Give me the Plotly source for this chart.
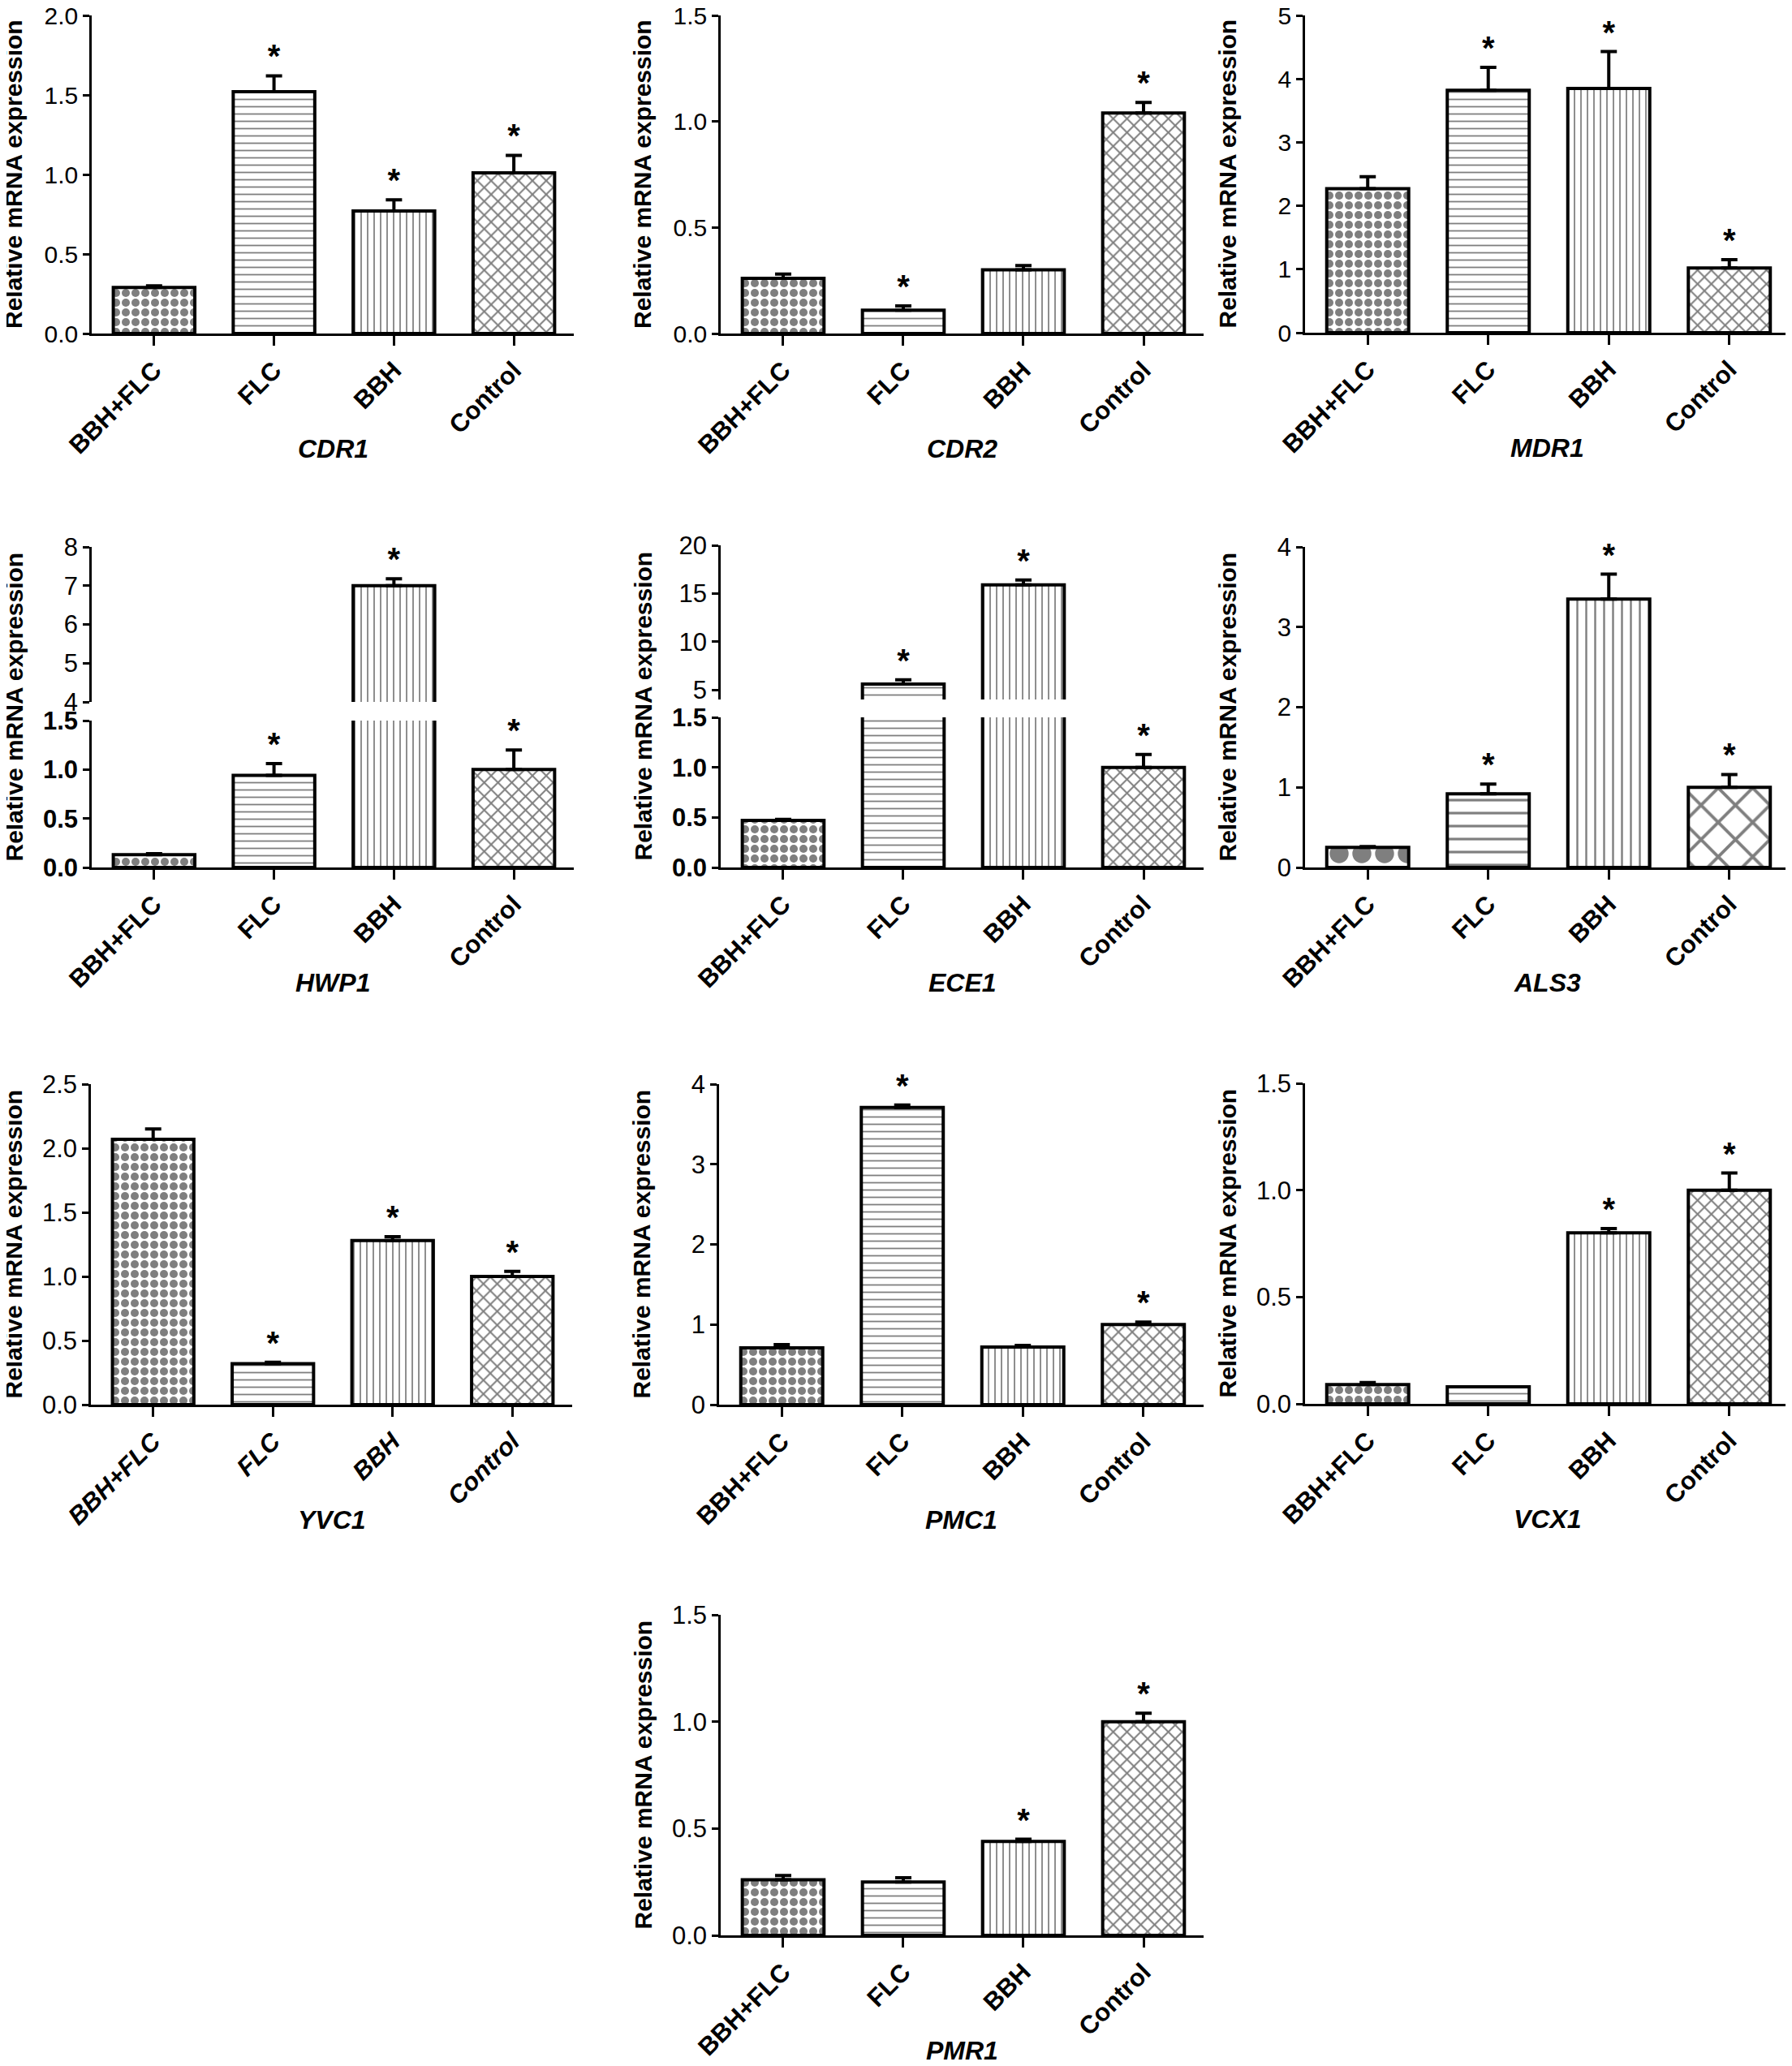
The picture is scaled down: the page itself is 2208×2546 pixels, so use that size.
import plotly.graph_objects as go

# the page body adds an 8 px margin, so the figure is a little smaller than the window
PAGE_OFF = 8
W, H = 2200, 2538

groups = ["BBH+FLC", "FLC", "BBH", "Control"]

# relative expression (mean), upward error (SD) and significance marks per gene
cdr1_mean = [0.29, 1.52, 0.77, 1.01]
cdr1_err = [0.01, 0.10, 0.07, 0.11]
cdr1_sig = ["", "*", "*", "*"]

cdr2_mean = [0.26, 0.11, 0.30, 1.04]
cdr2_err = [0.02, 0.02, 0.02, 0.05]
cdr2_sig = ["", "*", "", "*"]

mdr1_mean = [2.27, 3.82, 3.85, 1.02]
mdr1_err = [0.19, 0.36, 0.58, 0.13]
mdr1_sig = ["", "*", "*", "*"]

hwp1_mean = [0.13, 0.94, 7.0, 1.0]
hwp1_err = [0.01, 0.12, 0.18, 0.20]
hwp1_sig = ["", "*", "*", "*"]

ece1_mean = [0.47, 5.6, 15.9, 1.0]
ece1_err = [0.01, 0.45, 0.5, 0.13]
ece1_sig = ["", "*", "*", "*"]

als3_mean = [0.25, 0.92, 3.35, 1.0]
als3_err = [0.01, 0.12, 0.31, 0.16]
als3_sig = ["", "*", "*", "*"]

yvc1_mean = [2.07, 0.32, 1.28, 1.0]
yvc1_err = [0.08, 0.01, 0.03, 0.04]
yvc1_sig = ["", "*", "*", "*"]

pmc1_mean = [0.71, 3.71, 0.72, 1.0]
pmc1_err = [0.04, 0.03, 0.02, 0.03]
pmc1_sig = ["", "*", "", "*"]

vcx1_mean = [0.09, 0.08, 0.80, 1.0]
vcx1_err = [0.01, 0.0, 0.02, 0.08]
vcx1_sig = ["", "", "*", "*"]

pmr1_mean = [0.26, 0.25, 0.44, 1.0]
pmr1_err = [0.02, 0.02, 0.01, 0.04]
pmr1_sig = ["", "", "*", "*"]

FONT = "Liberation Sans, Arial, Helvetica, sans-serif"
NARROW = "Liberation Sans Narrow, Liberation Sans, Arial, sans-serif"

# panel layout in reference pixels: (gene, mean, err, sig, x0, x1, top, base, yrange, dtick, fmt, big pattern, style)
panels = [
    ("CDR1", cdr1_mean, cdr1_err, cdr1_sig, 113, 707, 19, 411, [0, 2.0], 0.5, ".1f", False, ""),
    ("CDR2", cdr2_mean, cdr2_err, cdr2_sig, 888, 1483, 19, 411, [0, 1.5], 0.5, ".1f", False, ""),
    ("MDR1", mdr1_mean, mdr1_err, mdr1_sig, 1608, 2205, 19, 410, [0, 5], 1, "d", False, ""),
    ("HWP1", hwp1_mean, hwp1_err, hwp1_sig, 113, 707, 674, 1069, [0, 1.5], 0.5, ".1f", False, ""),
    ("ECE1", ece1_mean, ece1_err, ece1_sig, 888, 1483, 672, 1069, [0, 1.5], 0.5, ".1f", False, ""),
    ("ALS3", als3_mean, als3_err, als3_sig, 1608, 2205, 674, 1069, [0, 4], 1, "d", True, ""),
    ("YVC1", yvc1_mean, yvc1_err, yvc1_sig, 112, 705, 1336, 1731, [0, 2.5], 0.5, ".1f", False, "italic"),
    ("PMC1", pmc1_mean, pmc1_err, pmc1_sig, 886, 1483, 1336, 1731, [0, 4], 1, "d", False, "narrow"),
    ("VCX1", vcx1_mean, vcx1_err, vcx1_sig, 1608, 2205, 1335, 1730, [0, 1.5], 0.5, ".1f", False, ""),
    ("PMR1", pmr1_mean, pmr1_err, pmr1_sig, 888, 1483, 1990, 2385, [0, 1.5], 0.5, ".1f", False, ""),
]

# broken axes: gene -> (upper range, upper tick values, upper-bottom px, lower-top px)
breaks = {
    "HWP1": ([4, 8], [4, 5, 6, 7, 8], 865, 888),
    "ECE1": ([4, 20], [5, 10, 15, 20], 862, 884),
}


def xf(px):
    return (px - PAGE_OFF) / W


def yf(px):
    return 1 - (px - PAGE_OFF) / H


def add_bars(fig, xa, ya, mean, err, sig, big, yrange):
    if big:
        sizes, solid = [28, 16, 11, 30], [0.55, 0.2, 0.22, 0.24]
    else:
        sizes, solid = [12, 9, 8, 12], [0.55, 0.2, 0.22, 0.3]
    fig.add_trace(go.Bar(
        x=groups, y=mean, xaxis=xa, yaxis=ya, width=0.68,
        marker=dict(color="white", line=dict(color="black", width=4),
                    pattern=dict(shape=[".", "-", "|", "x"], size=sizes, solidity=solid,
                                 fgcolor="black", bgcolor="white", fillmode="overlay")),
        error_y=dict(type="data", symmetric=False, array=err, arrayminus=[0] * len(err),
                     color="black", thickness=4, width=10),
        showlegend=False, hoverinfo="skip",
    ))
    tops = [m + e for m, e in zip(mean, err)]
    # only mark bars whose error bar ends inside this axis segment
    marks = [s if yrange[0] <= t <= yrange[1] else "" for s, t in zip(sig, tops)]
    fig.add_trace(go.Scatter(
        x=groups, y=tops, xaxis=xa, yaxis=ya,
        mode="text", text=marks, textposition="top center",
        textfont=dict(family=FONT, size=40, color="black", weight="bold"),
        showlegend=False, hoverinfo="skip", cliponaxis=False,
    ))


def axname(prefix, n):
    return prefix if n == 1 else f"{prefix}{n}"


fig = go.Figure()
layout = {}
annotations = []
extra = 11

for i, (gene, mean, err, sig, x0, x1, top, base, yr, dt, fmt, big, style) in enumerate(panels, start=1):
    xa, ya = axname("x", i), axname("y", i)
    tfam = NARROW if style else FONT
    lower_top = top
    if gene in breaks:
        urange, uticks, ubot, ltop = breaks[gene]
        lower_top = ltop
        ua = f"y{extra}"
        add_bars(fig, xa, ua, mean, err, sig, big, urange)
        layout[f"yaxis{extra}"] = dict(
            domain=[yf(ubot), yf(top)], anchor=xa, range=urange, tickvals=uticks,
            showline=True, linecolor="black", linewidth=2.5, ticks="outside", ticklen=8,
            tickwidth=2.5, tickcolor="black", showgrid=False, zeroline=False,
            automargin=False, ticklabeloverflow="allow",
            tickfont=dict(family=tfam, size=31, color="black"),
        )
        extra += 1
    add_bars(fig, xa, ya, mean, err, sig, big, yr)

    layout[axname("xaxis", i)] = dict(
        domain=[xf(x0), xf(x1)], anchor=ya, type="category",
        categoryorder="array", categoryarray=groups, range=[-0.52, 3.5],
        showline=True, linecolor="black", linewidth=2.5, ticks="outside", ticklen=12,
        tickwidth=2.5, tickcolor="black", tickangle=-45, showgrid=False, zeroline=False,
        automargin=False, ticklabeloverflow="allow",
        tickfont=dict(family=FONT, size=31, color="black", weight="bold",
                      style="italic" if style == "italic" else "normal"),
    )
    bold_ticks = gene in breaks
    layout[axname("yaxis", i)] = dict(
        domain=[yf(base), yf(lower_top)], anchor=xa, range=yr, dtick=dt, tick0=0,
        tickformat=fmt, showline=True, linecolor="black", linewidth=2.5,
        ticks="outside", ticklen=8, tickwidth=2.5, tickcolor="black",
        showgrid=False, zeroline=False, automargin=False, ticklabeloverflow="allow",
        tickfont=dict(family=tfam, size=30 if top < 100 else 31, color="black",
                      weight="bold" if bold_ticks else "normal"),
    )

    # gene name under the category labels
    annotations.append(dict(
        text=gene, xref=f"{xa} domain", x=0.5, yref="paper", y=yf(base + 142),
        xanchor="center", yanchor="middle", showarrow=False,
        font=dict(family=FONT, size=32, color="black", weight="bold", style="italic"),
    ))
    # y-axis title
    annotations.append(dict(
        text="Relative mRNA expression", xref="paper", x=xf(x0 - 96), yref="paper",
        y=yf((top + base) / 2), xanchor="center", yanchor="middle", textangle=-90,
        showarrow=False, font=dict(family=FONT, size=30, color="black", weight="bold"),
    ))

fig.update_layout(
    width=W, height=H, margin=dict(l=0, r=0, t=0, b=0, autoexpand=False),
    paper_bgcolor="white", plot_bgcolor="white",
    font=dict(family=FONT, color="black"),
    annotations=annotations, showlegend=False, **layout,
)

fig.write_html("out.html")
